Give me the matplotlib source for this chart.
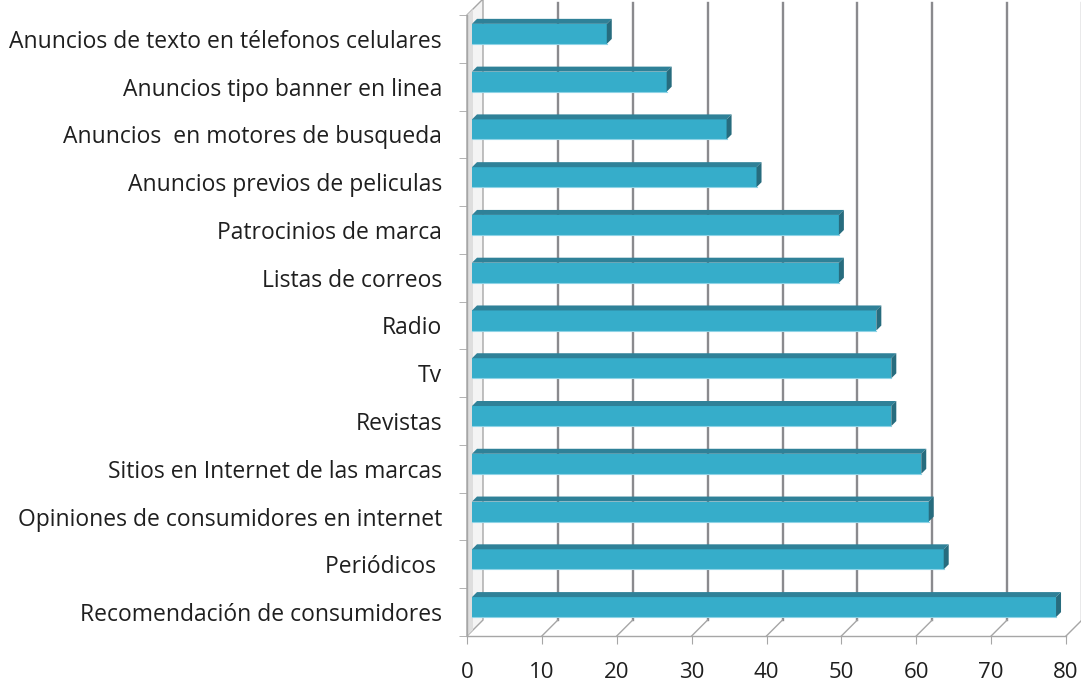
import numpy as np
import matplotlib.pyplot as plt
from matplotlib.patches import Polygon

plt.rcParams['font.family'] = ['Open Sans', 'DejaVu Sans']

categorias = ["Anuncios de texto en télefonos celulares",
              "Anuncios tipo banner en linea",
              "Anuncios  en motores de busqueda",
              "Anuncios previos de peliculas",
              "Patrocinios de marca",
              "Listas de correos",
              "Radio",
              "Tv",
              "Revistas",
              "Sitios en Internet de las marcas",
              "Opiniones de consumidores en internet",
              "Periódicos ",
              "Recomendación de consumidores"]
valores = [18, 26, 34, 38, 49, 49, 54, 56, 56, 60, 61, 63, 78]
xticks = [0, 10, 20, 30, 40, 50, 60, 70, 80]

W, H = 1081, 683
fig = plt.figure(figsize=(W / 100, H / 100), dpi=100)
ax = fig.add_axes([467 / W, (H - 636) / H, 599 / W, 621 / H])

n = len(categorias)
ax.set_xlim(0, 80)
ax.set_ylim(0, n)
ypos = np.arange(n)[::-1] + 0.5

# pixel -> data units (for the fake 3d depth)
px_x = 599 / 80
px_y = 621 / n
def dx(p):
    return p / px_x
def dy(p):
    return p / px_y

grid_c = '#8a8a8e'
axis_c = '#a6a6a6'
depth = 16

# left wall
wall = Polygon([(0, 0), (0, n), (dx(depth), n + dy(depth)), (dx(depth), dy(depth))],
               closed=True, facecolor='#f4f4f4', edgecolor=axis_c, lw=1, clip_on=False, zorder=1)
ax.add_patch(wall)
shade = Polygon([(0, 0), (0, n), (dx(6), n + dy(6)), (dx(6), dy(6))],
                closed=True, facecolor='#dedede', edgecolor='none', clip_on=False, zorder=1)
ax.add_patch(shade)

# back gridlines and floor diagonals
for t in xticks[1:]:
    ax.plot([t + dx(depth), t + dx(depth)], [dy(depth), n + dy(12)], color=grid_c, lw=1.7,
            clip_on=False, zorder=1)
    ax.plot([t, t + dx(depth)], [0, dy(depth)], color=axis_c, lw=1, clip_on=False, zorder=1)

# bars: front, top and side faces
h = 0.42
d0 = 5
d1 = 5
x0 = dx(d0)
for y, v in zip(ypos, valores):
    yc = y + dy(d0)
    ax.barh(yc, v, height=h, left=x0, color='#36adca', edgecolor='none', zorder=3)
    yt = yc + h / 2
    yb = yc - h / 2
    top = Polygon([(x0, yt), (x0 + v, yt), (x0 + v + dx(d1), yt + dy(d1)), (x0 + dx(d1), yt + dy(d1))],
                  closed=True, facecolor='#2f8198', edgecolor='none', zorder=3)
    side = Polygon([(x0 + v, yb), (x0 + v, yt), (x0 + v + dx(d1), yt + dy(d1)), (x0 + v + dx(d1), yb + dy(d1))],
                   closed=True, facecolor='#276c7e', edgecolor='none', zorder=3)
    ax.add_patch(top)
    ax.add_patch(side)
    ax.plot([x0, x0 + v], [yb, yb], color='#8fd3e6', lw=0.8, zorder=4)

for s in ['top', 'right']:
    ax.spines[s].set_visible(False)
for s in ['left', 'bottom']:
    ax.spines[s].set_color(axis_c)
    ax.spines[s].set_linewidth(1)
    ax.spines[s].set_zorder(2)

ax.set_xticks(xticks)
ax.set_xticklabels([str(t) for t in xticks])
ax.tick_params(axis='x', length=6, color=axis_c, pad=13, labelsize=16, labelcolor='#1f1f1f')

ax.set_yticks(ypos)
ax.set_yticklabels(categorias)
ax.set_yticks(np.arange(n + 1), minor=True)
ax.tick_params(axis='y', which='major', length=0, pad=18, labelsize=16.5, labelcolor='#1f1f1f')
ax.tick_params(axis='y', which='minor', length=6, color=axis_c)

ax.patch.set_alpha(0)
fig.savefig('out.png', dpi=100)
